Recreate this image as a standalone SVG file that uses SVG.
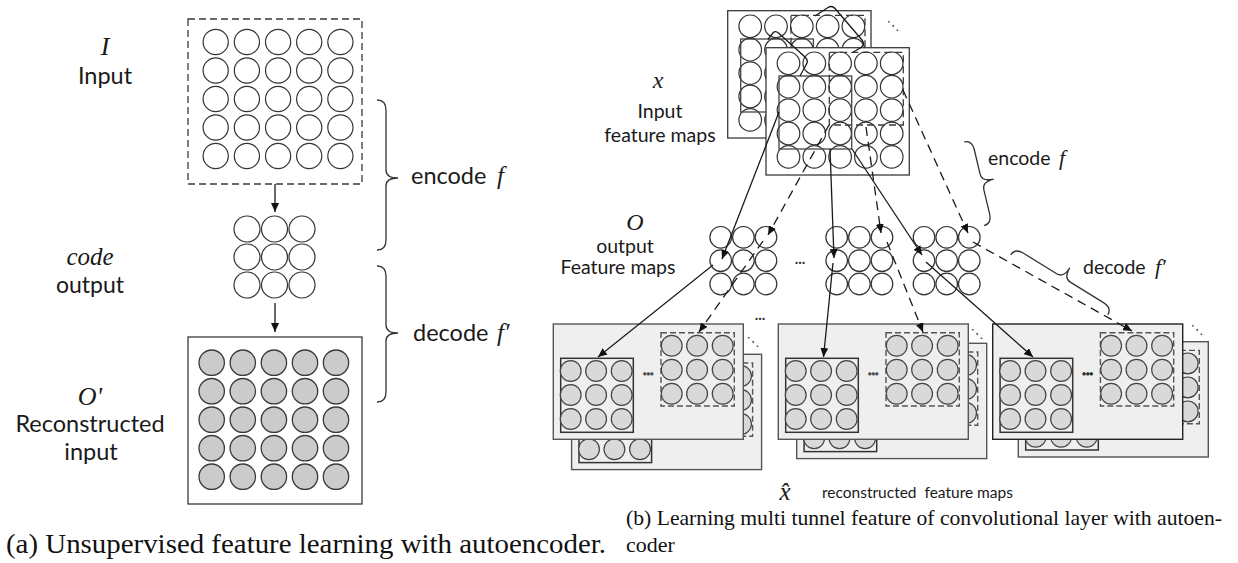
<svg xmlns="http://www.w3.org/2000/svg" xmlns:xlink="http://www.w3.org/1999/xlink" width="1238" height="563" viewBox="0 0 1238 563">
<style>
.bg{fill:#ffffff}
.lbl{font-family:Lato,"Liberation Sans",sans-serif;fill:#1a1a1a}
.math{font-family:"Liberation Serif",serif;font-style:italic;fill:#1a1a1a}
.cap{font-family:"Liberation Serif",serif;fill:#111}
.dots{font-family:Lato,"Liberation Sans",sans-serif;font-weight:bold;fill:#333;font-size:15px}
.ddots{font-family:"DejaVu Sans",sans-serif;fill:#333;font-size:13px}
.wc{fill:#fff;stroke:#333;stroke-width:1.2}
.gc{fill:#cbcbcb;stroke:#3a3a3a;stroke-width:1.3}
.rc{fill:#d9d9d9;stroke:#444;stroke-width:1.2}
.box{fill:#fff;stroke:#3a3a3a;stroke-width:1.3}
.dbox{fill:none;stroke:#3a3a3a;stroke-width:1.3;stroke-dasharray:7 4}
.sbox{fill:none;stroke:#444;stroke-width:1.3}
.pnl{fill:#efefef;stroke-width:1.4}
.isol{fill:none;stroke:#333;stroke-width:1.5}
.idash{fill:none;stroke:#555;stroke-width:1.4;stroke-dasharray:6 3}
.ln{fill:none;stroke:#1a1a1a;stroke-width:1.3}
.dl{fill:none;stroke:#1a1a1a;stroke-width:1.3;stroke-dasharray:9 6}
.br{fill:none;stroke:#333;stroke-width:1.3}
</style>
<defs>
<marker id="ah" markerUnits="userSpaceOnUse" markerWidth="10" markerHeight="8" refX="9" refY="4" orient="auto">
<path d="M0,0 L9,4 L0,8 z" fill="#111"/>
</marker>
<g id="inmap">
<rect class="box" x="0" y="0" width="143.3" height="127.3"/>
<g id="inrow">
<circle class="wc" cx="22.5" cy="15.6" r="11.3"/><circle class="wc" cx="48.3" cy="15.6" r="11.3"/><circle class="wc" cx="74.1" cy="15.6" r="11.3"/><circle class="wc" cx="99.9" cy="15.6" r="11.3"/><circle class="wc" cx="125.7" cy="15.6" r="11.3"/>
</g>
<use href="#inrow" y="23.4"/><use href="#inrow" y="46.8"/><use href="#inrow" y="70.2"/><use href="#inrow" y="93.6"/>
<rect class="sbox" x="13" y="28.3" width="72.7" height="73"/>
<rect class="dbox" x="63.3" y="4.6" width="74" height="72.7"/>
</g>
<g id="omap">
<g id="orow"><circle class="wc" cx="0" cy="0" r="10.8"/><circle class="wc" cx="22.7" cy="0" r="10.8"/><circle class="wc" cx="45.3" cy="0" r="10.8"/></g>
<use href="#orow" y="23.3"/><use href="#orow" y="46.7"/>
</g>
<g id="r3">
<g id="rrow"><circle class="rc" cx="0" cy="0" r="10.4"/><circle class="rc" cx="25.4" cy="0" r="10.4"/><circle class="rc" cx="51" cy="0" r="10.4"/></g>
<use href="#rrow" y="24"/><use href="#rrow" y="48"/>
</g>
<g id="rp">
<rect class="pnl" x="0" y="0" width="190" height="115.3"/>
<rect class="isol" x="7.4" y="34.3" width="72.6" height="74"/>
<use href="#r3" x="17.4" y="47"/>
<rect class="idash" x="107.7" y="8.7" width="73.3" height="73.3"/>
<use href="#r3" x="118.4" y="21.7"/>
<text class="dots" x="95" y="51" text-anchor="middle">...</text>
</g>
</defs>
<rect class="bg" x="0" y="0" width="1238" height="563"/>

<!-- ===== Left panel (a) ===== -->
<g id="input-a">
<rect class="dbox" x="188" y="19" width="174" height="165"/>
<g id="arow"><circle class="wc" cx="215.7" cy="42" r="12.6"/><circle class="wc" cx="246.9" cy="42" r="12.6"/><circle class="wc" cx="278.1" cy="42" r="12.6"/><circle class="wc" cx="309.2" cy="42" r="12.6"/><circle class="wc" cx="340.4" cy="42" r="12.6"/></g>
<use href="#arow" y="28.5"/><use href="#arow" y="57"/><use href="#arow" y="85.5"/><use href="#arow" y="114"/>
<text class="math" x="105" y="55" font-size="26" text-anchor="middle">I</text>
<text class="lbl" x="105" y="84" font-size="23.5" text-anchor="middle">Input</text>
</g>
<g id="code-a">
<g id="crow"><circle class="wc" cx="247" cy="229" r="13"/><circle class="wc" cx="274.5" cy="229" r="13"/><circle class="wc" cx="302" cy="229" r="13"/></g>
<use href="#crow" y="28"/><use href="#crow" y="56"/>
<text class="math" x="90" y="265" font-size="25" text-anchor="middle">code</text>
<text class="lbl" x="90" y="293" font-size="23" text-anchor="middle">output</text>
</g>
<g id="recon-a">
<rect class="box" x="188" y="337" width="174" height="167"/>
<g id="grow"><circle class="gc" cx="211.7" cy="362.7" r="12.7"/><circle class="gc" cx="242.8" cy="362.7" r="12.7"/><circle class="gc" cx="273.9" cy="362.7" r="12.7"/><circle class="gc" cx="305" cy="362.7" r="12.7"/><circle class="gc" cx="336" cy="362.7" r="12.7"/></g>
<use href="#grow" y="28.5"/><use href="#grow" y="57"/><use href="#grow" y="85.5"/><use href="#grow" y="114"/>
<text class="math" x="90" y="405" font-size="26" text-anchor="middle">O'</text>
<text class="lbl" x="90" y="432" font-size="23.5" text-anchor="middle">Reconstructed</text>
<text class="lbl" x="91" y="460" font-size="23.5" text-anchor="middle">input</text>
</g>
<g id="encode-a">
<path class="br" d="M377,100 Q386,100 386,110 L386,170 Q386,178 398,178 Q386,178 386,186 L386,240 Q386,250 377,250"/>
<text class="lbl" x="411" y="184" font-size="23.5">encode</text>
<text class="math" x="497" y="184" font-size="25">f</text>
</g>
<g id="decode-a">
<path class="br" d="M377,266 Q386,266 386,276 L386,325 Q386,333 398,333 Q386,333 386,341 L386,392 Q386,402 377,402"/>
<text class="lbl" x="413" y="341" font-size="23.5">decode</text>
<text class="math" x="497" y="341" font-size="25">f′</text>
</g>

<!-- ===== Right panel (b) ===== -->
<g id="input-maps">
<use href="#inmap" x="727.7" y="10.7"/>
<use href="#inmap" x="766" y="47.7"/>
<text class="ddots" x="893" y="30" text-anchor="middle">⋱</text>
<text class="math" x="658" y="88" font-size="24" text-anchor="middle">x</text>
<text class="lbl" x="660" y="118" font-size="19.5" text-anchor="middle">Input</text>
<text class="lbl" x="660" y="142" font-size="19.5" text-anchor="middle">feature maps</text>
</g>
<g id="output-maps">
<use href="#omap" x="720.7" y="237.3"/>
<use href="#omap" x="836.7" y="237.3"/>
<use href="#omap" x="924" y="237.3"/>
<text class="dots" x="800" y="264" text-anchor="middle">...</text>
<text class="math" x="635" y="230" font-size="24" text-anchor="middle">O</text>
<text class="lbl" x="625" y="253" font-size="19.5" text-anchor="middle">output</text>
<text class="lbl" x="618" y="274" font-size="19.5" text-anchor="middle">Feature maps</text>
</g>
<g id="recon-1">
<use href="#rp" x="571.6" y="354.3" stroke="#555"/>
<use href="#rp" x="553.3" y="324" stroke="#555"/>
<text class="ddots" x="753" y="346" text-anchor="middle">⋱</text>
<text class="dots" x="760" y="320" text-anchor="middle">...</text>
</g>
<g id="recon-2">
<use href="#rp" x="796.7" y="343.3" stroke="#555"/>
<use href="#rp" x="778.3" y="324" stroke="#555"/>
<text class="ddots" x="977" y="338" text-anchor="middle">⋱</text>
</g>
<g id="recon-3">
<use href="#rp" x="1018.3" y="341.7" stroke="#555"/>
<use href="#rp" x="992.7" y="324" stroke="#222"/>
<text class="ddots" x="1197" y="334" text-anchor="middle">⋱</text>
</g>
<g id="recon-label">
<text class="math" x="785" y="500" font-size="25" text-anchor="middle">x̂</text>
<text class="lbl" x="822" y="498" font-size="15.5">reconstructed&#160; feature maps</text>
</g>
<g id="encode-b">
<path class="br" transform="translate(972,140) rotate(-13.4)" d="M-8,0 Q0,0 0,10 L0,35 Q0,43 12,43 Q0,43 0,51 L0,76 Q0,86 -8,86"/>
<text class="lbl" x="988" y="165" font-size="19.5">encode</text>
<text class="math" x="1059" y="165" font-size="22">f</text>
</g>
<g id="decode-b">
<path class="br" transform="translate(1015,248) rotate(-58.3)" d="M-8,0 Q0,0 0,10 L0,49 Q0,57 12,57 Q0,57 0,65 L0,104 Q0,114 -8,114"/>
<text class="lbl" x="1083" y="274" font-size="19.5">decode</text>
<text class="math" x="1155" y="274" font-size="22">f′</text>
</g>

<!-- ===== Connectors ===== -->
<g id="connectors">
<line class="ln" x1="275" y1="184" x2="275" y2="212" marker-end="url(#ah)"/>
<line class="ln" x1="275" y1="303" x2="275" y2="332" marker-end="url(#ah)"/>
<path class="ln" d="M815,16 L828,7.5 Q832,5 835,8.5 L862,40 Q865,44 861,47.5 L853,52.3"/>
<path class="ln" d="M768,39.5 L772.5,33.5 Q775,30 778.5,33 L805,57 Q809,61 806,65 L800,76"/>
<line class="ln" x1="779" y1="112" x2="722" y2="259" marker-end="url(#ah)"/>
<line class="dl" x1="829" y1="125" x2="768" y2="235" marker-end="url(#ah)"/>
<line class="ln" x1="830" y1="149" x2="834" y2="258" marker-end="url(#ah)"/>
<line class="dl" x1="866" y1="127" x2="881" y2="233" marker-end="url(#ah)"/>
<line class="ln" x1="852" y1="149" x2="922" y2="255" marker-end="url(#ah)"/>
<line class="dl" x1="903" y1="90" x2="968" y2="233" marker-end="url(#ah)"/>
<line class="ln" x1="713" y1="265" x2="598" y2="357" marker-end="url(#ah)"/>
<line class="dl" x1="763" y1="241" x2="699" y2="332" marker-end="url(#ah)"/>
<line class="ln" x1="833" y1="263" x2="823.5" y2="357" marker-end="url(#ah)"/>
<line class="dl" x1="887" y1="242" x2="923" y2="332" marker-end="url(#ah)"/>
<line class="ln" x1="926" y1="262" x2="1033" y2="357" marker-end="url(#ah)"/>
<line class="dl" x1="973" y1="242" x2="1132" y2="331" marker-end="url(#ah)"/>
</g>

<!-- ===== Captions ===== -->
<text class="cap" x="6" y="553" font-size="28" textLength="600" lengthAdjust="spacingAndGlyphs">(a)  Unsupervised feature learning with autoencoder.</text>
<text class="cap" x="626" y="525" font-size="22" textLength="596" lengthAdjust="spacingAndGlyphs">(b)  Learning multi tunnel feature of convolutional layer with autoen-</text>
<text class="cap" x="626" y="552" font-size="22">coder</text>
</svg>
